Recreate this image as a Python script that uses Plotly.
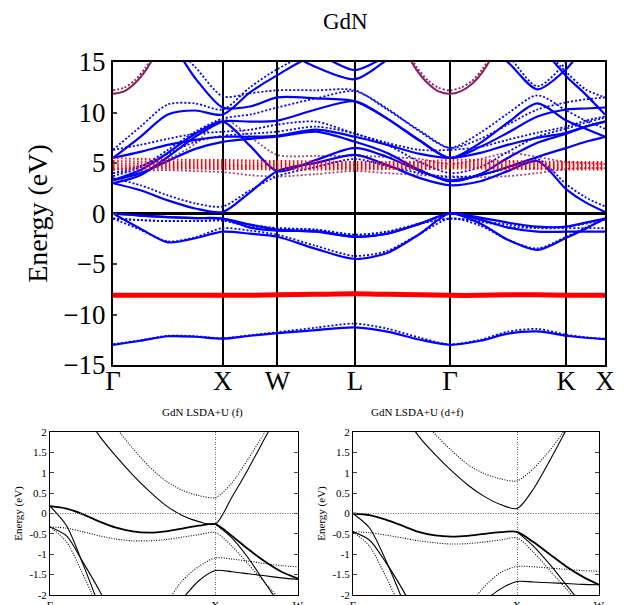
import plotly.graph_objects as go

# ---- main panel: GdN band structure, energies in eV ----
k_main = [0, 0.25, 0.5, 0.75, 1.0, 1.25, 1.5, 1.85, 2.207, 2.5, 2.8, 3.073,
          3.35, 3.6, 3.87, 4.134, 4.31, 4.487]
sym_pos = [0, 1.0, 1.5, 2.207, 3.073, 4.134, 4.487]
sym_lab = ['Γ', 'X', 'W', 'L', 'Γ', 'K', 'X']

# spin-up (solid blue)
up_bands = [
    [0, -0.2, -0.35, -0.45, -0.5, -1.1, -1.6, -1.8, -2.3, -2.0, -1.0, 0, -0.4, -0.9, -1.3, -1.3, -0.9, -0.5],
    [0, -1.5, -2.85, -2.45, -1.8, -2.0, -2.3, -3.5, -4.5, -3.9, -2.0, 0, -1.0, -2.6, -3.6, -2.4, -1.5, -0.5],
    [0, -0.2, -0.35, -0.45, -0.5, -1.4, -1.7, -1.75, -2.3, -2.0, -1.0, 0, -0.6, -1.4, -1.8, -1.8, -1.8, -1.8],
    [3.0, 2.3, 1.3, 0.5, 0.15, 2.1, 4.2, 5.0, 5.8, 4.8, 3.5, 2.8, 3.2, 4.2, 5.2, 2.4, 1.1, 0.15],
    [3.3, 4.0, 5.2, 6.4, 7.1, 7.4, 7.6, 8.1, 7.1, 6.0, 4.3, 3.2, 3.9, 5.5, 7.0, 7.9, 8.6, 9.1],
    [3.0, 3.8, 5.6, 7.6, 9.1, 9.1, 9.2, 10.3, 11.1, 9.4, 7.2, 5.5, 7.0, 9.0, 10.9, 9.2, 8.4, 7.6],
    [3.3, 4.3, 6.0, 7.9, 9.1, 6.7, 4.2, 5.3, 6.5, 5.6, 4.2, 3.3, 3.8, 4.6, 5.6, 6.5, 7.1, 7.6],
    [5.5, 6.1, 6.8, 7.3, 7.6, 7.6, 7.7, 8.3, 7.6, 6.8, 5.9, 5.5, 6.0, 6.8, 7.5, 8.0, 8.6, 9.1],
    [5.5, 7.6, 9.8, 10.2, 9.8, 12.0, 13.7, 15.6, 14.2, 15.6, 17, 17, 17, 15.0, 12.3, 14.3, 16.5, 17],
    [17, 17, 17, 13.4, 10.5, 10.6, 11.5, 11.4, 11.1, 9.4, 7.2, 5.5, 6.6, 8.0, 9.6, 10.3, 10.4, 10.5],
    [None] * 14 + [17, 13.6, 11.8, 9.8],
    [None] * 6 + [16.5, 14.5, 13.3, 15.2, 17] + [None] * 7,
    [-13.0, -12.6, -12.15, -12.2, -12.4, -12.1, -11.85, -11.55, -11.27, -11.7, -12.5, -13.0, -12.6, -11.9, -11.67, -12.1, -12.3, -12.43],
]

# spin-down (dotted blue)
dn_bands = [
    [-0.5, -0.65, -0.75, -0.75, -0.7, -1.1, -1.45, -1.6, -2.1, -1.8, -1.0, -0.5, -0.75, -1.1, -1.35, -1.3, -1.0, -0.6],
    [-0.5, -1.6, -2.75, -2.35, -1.45, -1.7, -2.1, -3.2, -4.2, -3.7, -2.0, -0.5, -1.2, -2.6, -3.45, -2.3, -1.4, -0.6],
    [-0.5, -0.65, -0.75, -0.75, -0.7, -1.3, -1.45, -1.6, -2.1, -1.8, -1.0, -0.5, -0.8, -1.3, -1.45, -1.45, -1.45, -1.45],
    [3.5, 2.8, 1.8, 1.0, 0.7, 2.3, 3.7, 4.6, 5.4, 4.7, 4.0, 3.6, 3.8, 4.5, 5.4, 2.9, 1.6, 0.7],
    [4.0, 4.7, 5.9, 7.1, 7.7, 7.9, 8.1, 8.6, 7.9, 6.8, 5.1, 4.0, 4.6, 6.1, 7.6, 8.4, 9.0, 9.5],
    [3.7, 4.6, 6.3, 8.1, 9.4, 9.8, 10.5, 11.4, 12.1, 10.4, 8.1, 6.5, 8.0, 9.9, 11.7, 10.2, 9.2, 8.4],
    [6.3, 6.8, 7.4, 7.9, 8.1, 8.3, 8.8, 9.1, 7.9, 7.0, 6.3, 6.3, 6.6, 7.3, 8.0, 8.6, 9.2, 9.6],
    [6.3, 8.6, 10.8, 10.9, 10.3, 12.5, 14.3, 16, 15.2, 16, 17, 17, 17, 15.6, 12.6, 15.0, 17, 17],
    [17, 17, 17, 14.5, 11.6, 11.9, 12.2, 12.2, 12.2, 10.3, 8.2, 6.5, 7.4, 8.8, 10.3, 11.0, 11.3, 11.5],
    [None] * 14 + [17, 14.0, 12.3, 11.5],
    [-12.95, -12.55, -12.1, -12.15, -12.35, -12.05, -11.75, -11.3, -10.9, -11.4, -12.3, -12.95, -12.5, -11.7, -11.43, -12.0, -12.25, -12.4],
]

# purple dotted (f-hybridised) bands
mix_bands = [
    [4.3, 4.7, 5.4, 6.9, 9.4, 7.6, 5.8, 5.7, 5.7, 5.6, 5.4, 4.9, 5.4, 6.0, 5.6, 5.1, 5.0, 4.9],
    [4.0, 4.2, 4.3, 4.2, 4.1, 3.8, 3.66, 3.9, 4.2, 4.0, 3.8, 3.7, 3.6, 3.7, 4.0, 4.4, 4.5, 4.5],
]

# red dotted Gd 4f minority levels
f_dn_bands = [
    [5.5, 5.4, 5.35, 5.3, 5.3, 5.25, 5.2, 5.15, 5.1, 5.1, 5.15, 5.3, 5.3, 5.2, 5.15, 5.1, 5.1, 5.1],
    [5.2, 5.15, 5.1, 5.1, 5.1, 5.05, 5.0, 4.95, 4.95, 4.95, 5.0, 5.05, 5.1, 5.05, 5.0, 4.95, 4.95, 4.95],
    [4.95, 4.95, 4.9, 4.9, 4.9, 4.85, 4.85, 4.8, 4.8, 4.8, 4.85, 4.9, 4.9, 4.85, 4.8, 4.8, 4.8, 4.8],
    [4.75, 4.75, 4.75, 4.7, 4.7, 4.7, 4.7, 4.65, 4.65, 4.65, 4.7, 4.75, 4.75, 4.7, 4.65, 4.65, 4.65, 4.65],
    [4.55, 4.6, 4.6, 4.55, 4.55, 4.55, 4.5, 4.5, 4.5, 4.5, 4.55, 4.6, 4.6, 4.55, 4.5, 4.5, 4.5, 4.5],
    [4.4, 4.45, 4.45, 4.45, 4.4, 4.4, 4.35, 4.35, 4.35, 4.4, 4.4, 4.45, 4.45, 4.4, 4.4, 4.35, 4.35, 4.35],
]
# red solid Gd 4f majority level
f_up_band = [-8.1, -8.1, -8.1, -8.1, -8.1, -8.1, -8.05, -8.0, -7.95, -8.0, -8.05, -8.1, -8.1, -8.05, -8.05, -8.1, -8.1, -8.1]

# purple parabola at Gamma (Gd 6s-like)
para_k_left = [0, 0.1, 0.2, 0.3, 0.4]
para_up_left = [11.85, 12.1, 12.9, 14.2, 16.0]
para_dn_left = [12.2, 12.45, 13.2, 14.5, 16.3]
para_k_mid = [2.67, 2.77, 2.87, 2.97, 3.073, 3.17, 3.27, 3.37, 3.47]
para_up_mid = [16.0, 14.2, 12.9, 12.1, 11.85, 12.1, 12.8, 14.0, 15.8]
para_dn_mid = [16.3, 14.5, 13.2, 12.45, 12.2, 12.45, 13.1, 14.3, 16.1]

# ---- lower panels: Gamma-X-W zoom, LSDA+U ----
k_low = [0, 0.1, 0.2, 0.3, 0.4, 0.5, 0.6, 0.7, 0.8, 0.9, 1.0, 1.1, 1.2, 1.3, 1.4, 1.5]
N = None
low_lab = ['Γ', 'X', 'W']

f_solid = [
    [0.18, 0.12, -0.02, -0.2, -0.35, -0.44, -0.47, -0.44, -0.37, -0.3, -0.26, -0.55, -0.88, -1.18, -1.43, -1.6],
    [0.18, -0.3, -1.25, -2.3, N, N, N, N, N, N, N, N, N, N, N, N],
    [-0.33, -0.55, -1.2, -1.9, -2.7, N, N, N, N, N, N, N, N, N, N, N],
    [N, N, 2.5, 1.9, 1.4, 0.95, 0.55, 0.2, -0.05, -0.2, -0.26, 0.4, 1.1, 1.85, 2.6, N],
    [N, N, N, N, N, N, N, N, N, N, -0.26, -0.6, -1.1, -1.7, -2.3, N],
    [N, N, N, N, N, N, N, -2.6, -2.1, -1.65, -1.4, -1.43, -1.48, -1.53, -1.58, -1.62],
]
f_dotted = [
    [-0.33, -0.36, -0.45, -0.55, -0.63, -0.67, -0.67, -0.64, -0.58, -0.52, -0.47, -0.8, -1.25, -1.7, -2.15, N],
    [-0.33, -0.7, -1.5, -2.4, N, N, N, N, N, N, N, N, N, N, N, N],
    [N, N, N, 2.6, 2.1, 1.6, 1.15, 0.8, 0.57, 0.44, 0.39, 0.75, 1.35, 2.0, 2.7, N],
    [N, N, N, N, N, N, -2.6, -2.2, -1.65, -1.3, -1.09, -1.12, -1.17, -1.23, -1.28, -1.31],
]
df_solid = [
    [0, -0.04, -0.15, -0.3, -0.45, -0.54, -0.57, -0.55, -0.5, -0.46, -0.45, -0.7, -1.0, -1.3, -1.55, -1.75],
    [0, -0.35, -1.15, -2.1, N, N, N, N, N, N, N, N, N, N, N, N],
    [-0.45, -0.65, -1.2, -1.85, -2.6, N, N, N, N, N, N, N, N, N, N, N],
    [N, N, N, 2.5, 1.9, 1.45, 1.05, 0.7, 0.42, 0.22, 0.12, 0.6, 1.3, 2.05, N, N],
    [N, N, N, N, N, N, N, N, N, N, -0.45, -0.8, -1.25, -1.75, -2.25, N],
    [N, N, N, N, N, N, N, N, -2.15, -1.85, -1.67, -1.68, -1.7, -1.72, -1.74, -1.75],
]
df_dotted = [
    [-0.45, -0.47, -0.53, -0.6, -0.67, -0.72, -0.75, -0.74, -0.7, -0.65, -0.6, -0.95, -1.4, -1.85, -2.3, N],
    [-0.45, -0.8, -1.55, -2.4, N, N, N, N, N, N, N, N, N, N, N, N],
    [N, N, N, N, 2.5, 1.95, 1.55, 1.2, 0.98, 0.85, 0.8, 1.1, 1.55, 2.1, N, N],
    [N, N, N, N, N, N, N, -2.3, -1.8, -1.45, -1.3, -1.31, -1.34, -1.37, -1.4, -1.42],
]
low_ticks = [-2, -1.5, -1, -0.5, 0, 0.5, 1, 1.5, 2]

BLUE = '#0000ff'
RED = '#ff0000'
PURPLE = '#8b1c62'
SERIF = 'Liberation Serif'
FINE_DOT = '2px,2px'

fig = go.Figure()


def band(x, y, color, width, dash='solid', xa='x', ya='y', opacity=1.0):
    fig.add_trace(go.Scatter(x=x, y=y, mode='lines', xaxis=xa, yaxis=ya,
                             line=dict(color=color, width=width, dash=dash, shape='spline', smoothing=0.8),
                             opacity=opacity, showlegend=False, hoverinfo='skip'))


# main panel
for b in mix_bands:
    band(k_main, b, PURPLE, 1.8, FINE_DOT, opacity=0.8)
for b in dn_bands:
    band(k_main, b, BLUE, 1.8, FINE_DOT)
for b in up_bands:
    band(k_main, b, BLUE, 2.2)
# f levels drawn over the blue bands, as in the original
for b in f_dn_bands:
    band(k_main, b, RED, 2, '1.5px,2.5px')
band(k_main, f_up_band, RED, 5)
band(para_k_left, para_dn_left, PURPLE, 1.8, FINE_DOT)
band(para_k_mid, para_dn_mid, PURPLE, 1.8, FINE_DOT)
band(para_k_left, para_up_left, PURPLE, 2)
band(para_k_mid, para_up_mid, PURPLE, 2)

# lower panels
for b in f_dotted:
    band(k_low, b, 'black', 1.1, '1px,1.5px', 'x2', 'y2')
for i, b in enumerate(f_solid):
    band(k_low, b, 'black', 1.8 if i == 0 else 1.1, 'solid', 'x2', 'y2')
for b in df_dotted:
    band(k_low, b, 'black', 1.1, '1px,1.5px', 'x3', 'y3')
for i, b in enumerate(df_solid):
    band(k_low, b, 'black', 1.8 if i == 0 else 1.1, 'solid', 'x3', 'y3')

# the page body adds an 8px offset, so domains are set 8px up-left of the target
main_ax = dict(showline=True, mirror=True, linecolor='black', linewidth=2, automargin=False)
fig.update_layout(
    width=625, height=605,
    margin=dict(l=0, r=0, t=0, b=0),
    paper_bgcolor='white', plot_bgcolor='white',
    font=dict(family=SERIF, color='black'),
    xaxis=dict(domain=[0.168, 0.9552], anchor='y', range=[0, 4.487], tickvals=sym_pos, ticktext=sym_lab,
               ticks='', showgrid=True, gridcolor='black', gridwidth=2, zeroline=False,
               tickfont=dict(size=27), ticklabelstandoff=-9, **main_ax),
    yaxis=dict(domain=[0.4099, 0.9107], anchor='x', range=[-15, 15],
               tickvals=[-15, -10, -5, 0, 5, 10, 15],
               ticktext=['−15', '−10', '−5', '0', '5', '10', '15'],
               ticks='inside', ticklen=4, tickwidth=1.5, showgrid=False,
               zeroline=True, zerolinecolor='black', zerolinewidth=2.5,
               tickfont=dict(size=27), title=dict(text='Energy (eV)', font=dict(size=28), standoff=8),
               **main_ax),
)

low_x = dict(range=[0, 1.5], tickvals=[0, 1, 1.5], ticktext=low_lab, ticks='', showgrid=True,
             gridcolor='#666666', griddash='1px,1.5px', gridwidth=1, zeroline=False, showline=True,
             mirror=True, linecolor='black', linewidth=1, tickfont=dict(size=11), automargin=False)
low_y = dict(range=[-2, 2], tickvals=low_ticks, ticktext=[f'{v:g}' for v in low_ticks],
             ticks='inside', ticklen=4, showgrid=False, zeroline=False, showline=True,
             mirror='ticks', linecolor='black', linewidth=1, tickfont=dict(size=11), automargin=False)
fig.update_layout(
    xaxis2=dict(domain=[0.0672, 0.464], anchor='y2', **low_x),
    yaxis2=dict(domain=[0.0298, 0.2992], anchor='x2',
                title=dict(text='Energy (eV)', font=dict(size=11), standoff=4), **low_y),
    xaxis3=dict(domain=[0.552, 0.9456], anchor='y3', **low_x),
    yaxis3=dict(domain=[0.0298, 0.2992], anchor='x3',
                title=dict(text='Energy (eV)', font=dict(size=11), standoff=4), **low_y),
)

for xr, yr in (('x2 domain', 'y2'), ('x3 domain', 'y3')):
    fig.add_shape(type='line', xref=xr, yref=yr, x0=0, x1=1, y0=0, y1=0,
                  line=dict(color='#666666', width=1, dash='1px,1.5px'))

fig.add_annotation(text='GdN', xref='paper', yref='paper', x=0.5408, y=0.9769, yanchor='middle',
                   showarrow=False, font=dict(size=23))
fig.add_annotation(text='GdN LSDA+U (f)', xref='paper', yref='paper', x=0.2432, y=0.3306,
                   yanchor='middle', showarrow=False, font=dict(size=11))
fig.add_annotation(text='GdN LSDA+U (d+f)', xref='paper', yref='paper', x=0.7328, y=0.3306,
                   yanchor='middle', showarrow=False, font=dict(size=11))

fig.write_html('out.html')
